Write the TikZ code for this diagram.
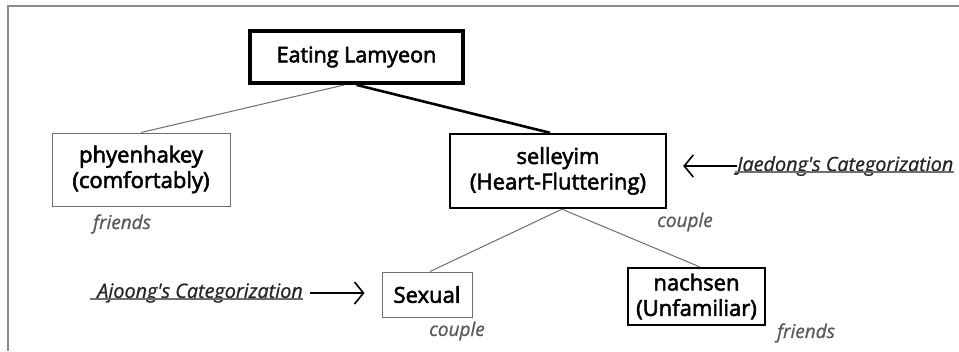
\documentclass[tikz,border=0pt]{standalone}
\usepackage{fontspec}
\setmainfont{Open Sans}
\newfontfamily\boxfont{Open Sans}[FakeBold=2.5]
\newfontfamily\notefont{Open Sans Italic}[FakeBold=0.8]
\usetikzlibrary{arrows.meta}
\definecolor{framegray}{HTML}{8A8A8A}
\definecolor{thingray}{HTML}{6E6E6E}
\definecolor{notegray}{HTML}{5A5A5A}
\begin{document}
\begin{tikzpicture}[x=1pt,y=-1pt,
  box/.style={draw, rectangle, align=center, inner sep=0pt, font=\boxfont\fontsize{22}{25.5}\selectfont},
  strongbox/.style={box, line width=2.4pt},
  weakbox/.style={box, draw=thingray, line width=1pt},
  note/.style={inner sep=0pt, text=notegray, font=\notefont\fontsize{19}{21}\selectfont},
  tag/.style={inner sep=0pt, text=black!85, font=\notefont\fontsize{19.8}{21}\selectfont},
  thinedge/.style={draw=thingray, line width=1pt},
  pointer/.style={line width=1.6pt, -{Straight Barb[length=9pt,width=22pt,line width=1.6pt]}}
]
\useasboundingbox (0,0) rectangle (959,351);
\fill[white] (0,0) rectangle (959,351);
% outer frame (open on the right and bottom)
\draw[framegray, line width=2pt] (959,6) -- (8,6) -- (8,351);

% boxes
\node[box, line width=3.8pt, minimum width=213pt, minimum height=52pt, font=\boxfont\fontsize{21.5}{24}\selectfont] (root) at (356.5,57) {Eating Lamyeon};
\node[weakbox, minimum width=178pt, minimum height=73pt] (phy) at (141,169.5) {phyenhakey\\(comfortably)};
\node[strongbox, minimum width=216pt, minimum height=74pt] (sel) at (558,171) {selleyim\\(Heart-Fluttering)};
\node[weakbox, minimum width=90pt, minimum height=45pt] (sex) at (427,294.5) {Sexual};
\node[strongbox, minimum width=137pt, minimum height=57pt] (nach) at (696.5,296.5) {nachsen\\(Unfamiliar)};

% tree edges
\draw[thinedge] ([xshift=-12pt]root.south) -- (phy.north);
\draw[line width=2.6pt] (root.south) -- ([xshift=-8pt]sel.north);
\draw[thinedge] ([xshift=4pt]sel.south) -- ([xshift=3pt]sex.north);
\draw[thinedge] ([xshift=4pt]sel.south) -- ([xshift=3pt]nach.north);

% relationship notes
\node[note] (f1) at (122,224) {friends};
\node[note] (c1) at (685,222) {couple};
\node[note] (c2) at (457,331) {couple};
\node[note] (f2) at (806,333) {friends};

% categorisation tags with underlines and pointers
\node[tag, anchor=west] (jae) at (737,166) {Jaedong's Categorization};
\draw[thingray, line width=1.3pt] ([yshift=4pt]jae.south west) ++(-2pt,0) -- ([yshift=4pt]jae.south east);
\draw[pointer, shorten >=16pt] (jae.west) -- (sel.east |- jae.west);

\node[tag, anchor=east] (ajo) at (303,293) {Ajoong's Categorization};
\draw[thingray, line width=1.3pt] ([yshift=4pt,xshift=-7pt]ajo.south west) -- ([yshift=4pt]ajo.south east);
\draw[pointer, shorten <=7pt, shorten >=17pt] (ajo.east) -- (sex.west |- ajo.east);
\end{tikzpicture}
\end{document}
